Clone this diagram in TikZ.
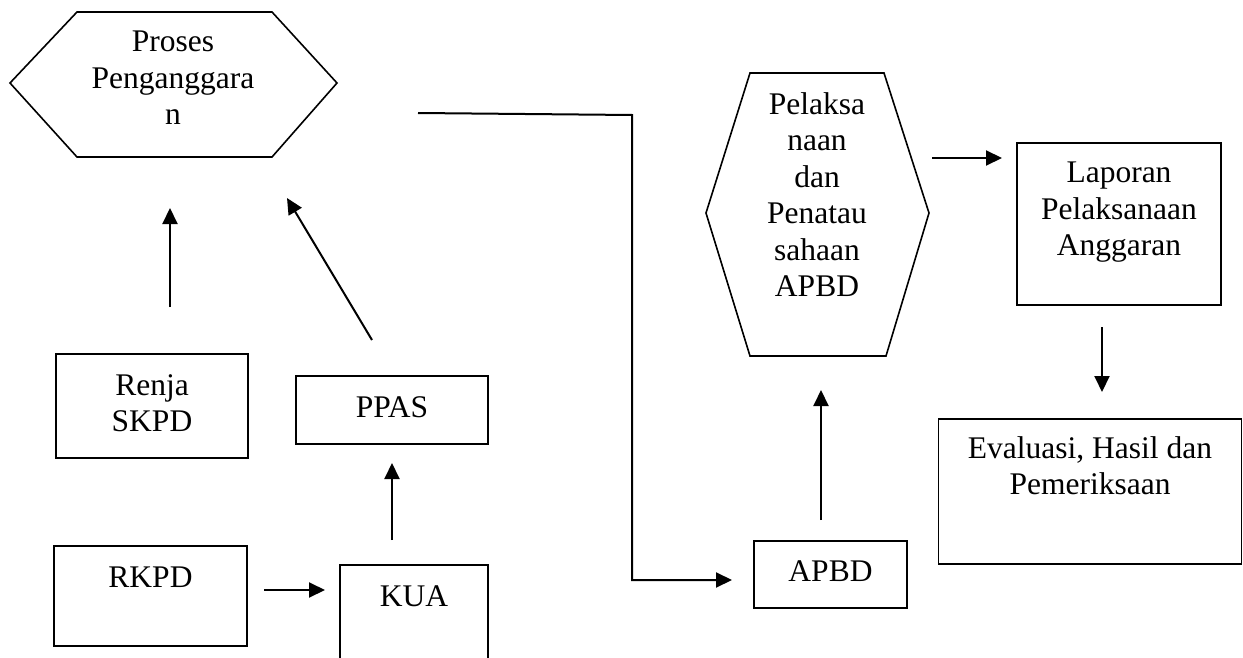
\documentclass[tikz,border=0pt]{standalone}
\usepackage{fontspec}
\setmainfont{Liberation Serif}
\usetikzlibrary{arrows.meta}
\begin{document}
\begin{tikzpicture}[x=1pt,y=-1pt,
  box/.style={draw, line width=1.6pt, inner sep=0pt},
  lbl/.style={font=\fontsize{31.5}{36.5}\selectfont, align=center, inner sep=0pt},
  flow/.style={line width=2pt, -{Triangle[length=16pt,width=15pt]}},
  plain/.style={line width=2pt},
  hexa/.style={line width=1.6pt, line join=miter}
]
\useasboundingbox (0,0) rectangle (1243,658);

% --- hexagon: budgeting process
\draw[hexa] (10,83) -- (77,12) -- (272,12) -- (337,83) -- (272,157) -- (77,157) -- cycle;
\node[lbl, anchor=north] (proses) at (173,31) {Proses\\Penganggara\\n};

% --- hexagon: execution and administration
\draw[hexa] (706,213) -- (750,73) -- (884,73) -- (929,213) -- (886,356) -- (750,356) -- cycle;
\node[lbl, anchor=north] (pelaksanaan) at (817,92) {Pelaksa\\naan\\dan\\Penatau\\sahaan\\APBD};

% --- rectangular boxes
\node[box, minimum width=192pt, minimum height=104pt] (renja) at (152,406) {};
\node[lbl, anchor=north] (renja-t) at (152,374) {Renja\\SKPD};

\node[box, minimum width=192pt, minimum height=68pt] (ppas) at (392,410) {};
\node[lbl, anchor=base] (ppas-t) at (392,417) {PPAS};

\node[box, minimum width=193pt, minimum height=100pt] (rkpd) at (150.5,596) {};
\node[lbl, anchor=base] (rkpd-t) at (150.5,587) {RKPD};

\node[box, minimum width=148pt, minimum height=120pt] (kua) at (414,625) {};
\node[lbl, anchor=base] (kua-t) at (414,606) {KUA};

\node[box, minimum width=153pt, minimum height=67pt] (apbd) at (830.5,574.5) {};
\node[lbl, anchor=base] (apbd-t) at (830.5,581) {APBD};

\node[box, minimum width=204pt, minimum height=162pt] (laporan) at (1119,224) {};
\node[lbl, anchor=north] (laporan-t) at (1119,162) {Laporan\\Pelaksanaan\\Anggaran};

\node[box, minimum width=303pt, minimum height=145pt] (evaluasi) at (1090,491.5) {};
\node[lbl, anchor=north] (evaluasi-t) at (1090,436) {Evaluasi, Hasil dan\\Pemeriksaan};

% --- connector end points
\coordinate (renja-out) at (170,307);
\coordinate (proses-in-a) at (170,208);
\coordinate (ppas-out) at (372,340);
\coordinate (proses-in-b) at (287,198);
\coordinate (rkpd-out) at (264,590);
\coordinate (kua-in) at (325,590);
\coordinate (kua-out) at (392,540);
\coordinate (ppas-in) at (392,463);
\coordinate (proses-out) at (418,113);
\coordinate (bend-a) at (632,115);
\coordinate (bend-b) at (632,580);
\coordinate (apbd-in) at (732,580);
\coordinate (apbd-out) at (821,520);
\coordinate (pelaksanaan-in) at (821,390);
\coordinate (pelaksanaan-out) at (932,158);
\coordinate (laporan-in) at (1002,158);
\coordinate (laporan-out) at (1102,327);
\coordinate (evaluasi-in) at (1102,392);

% --- connectors
\draw[flow] (renja-out) -- (proses-in-a);
\draw[flow] (ppas-out) -- (proses-in-b);
\draw[flow] (rkpd-out) -- (kua-in);
\draw[flow] (kua-out) -- (ppas-in);
\draw[flow, line join=miter] (proses-out) -- (bend-a) -- (bend-b) -- (apbd-in);
\draw[flow] (apbd-out) -- (pelaksanaan-in);
\draw[flow] (pelaksanaan-out) -- (laporan-in);
\draw[flow] (laporan-out) -- (evaluasi-in);
\end{tikzpicture}
\end{document}
